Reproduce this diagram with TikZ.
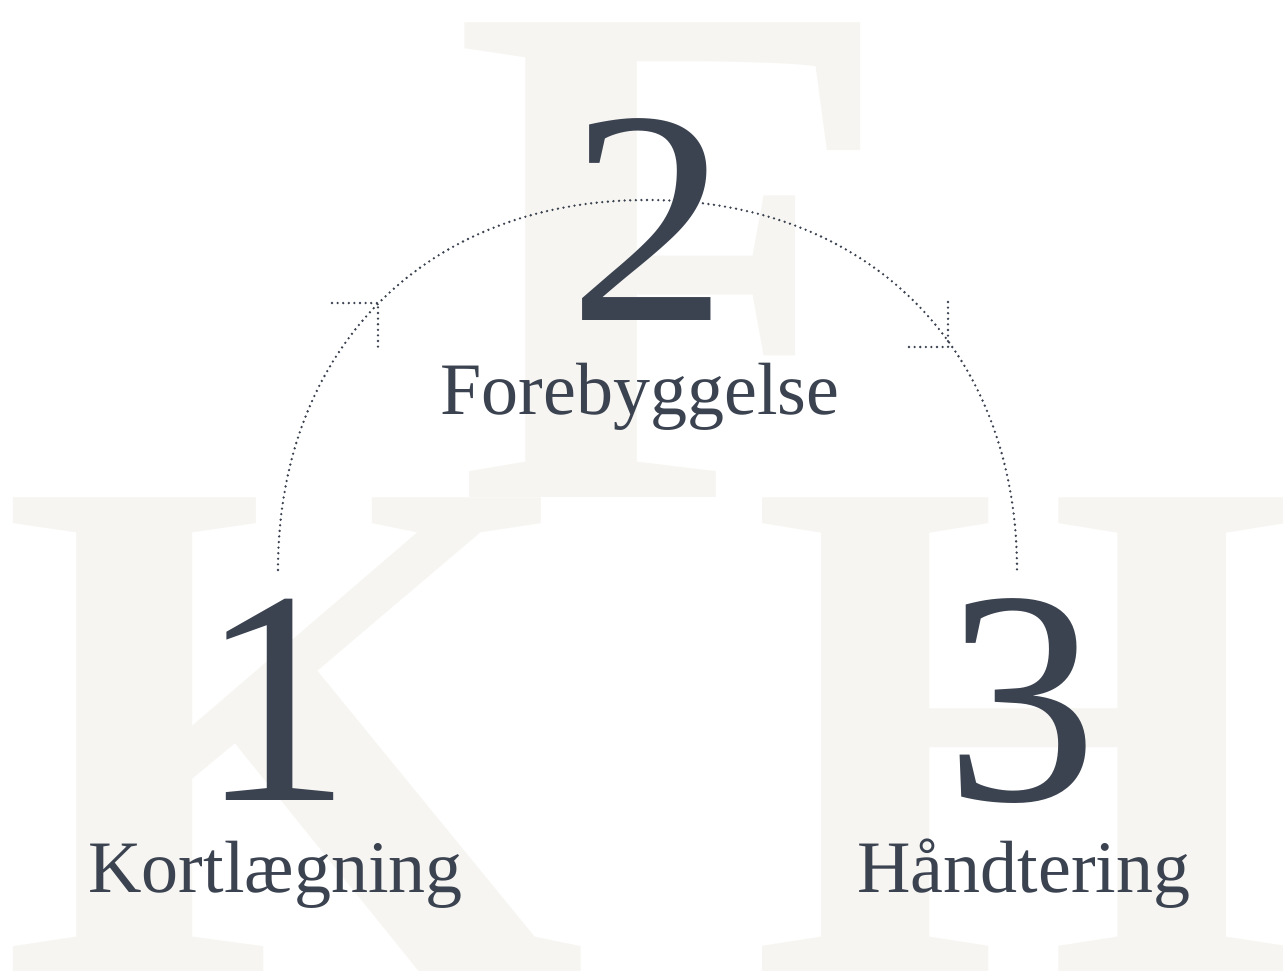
\documentclass[tikz,border=0pt]{standalone}
\usepackage{fontspec}
\setmainfont{Liberation Serif}
\usetikzlibrary{calc}
\definecolor{ink}{RGB}{59,66,80}
\definecolor{ghost}{RGB}{246,245,241}
\tikzset{
  ghostletter/.style={anchor=base west, inner sep=0pt, text=ghost, font=\fontsize{725pt}{725pt}\selectfont\bfseries},
  bignum/.style={anchor=base, inner sep=0pt, text=ink, font=\fontsize{305pt}{305pt}\selectfont},
  steplabel/.style={anchor=base, inner sep=0pt, text=ink, font=\fontsize{74pt}{74pt}\selectfont},
  dotline/.style={draw=ink, line width=2.6pt, line cap=round, dash pattern=on 0pt off 5.6pt}
}
\begin{document}
\begin{tikzpicture}[x=1pt, y=-1pt]
\useasboundingbox (0,0) rectangle (1283,970);
\fill[white] (0,0) rectangle (1283,970);
\begin{scope}
\clip (0,0) rectangle (1283,970);
\node[ghostletter, xscale=1.0] (bgF) at (452,497) {F};
\node[ghostletter, xscale=1.04] (bgK) at (0,972) {K};
\node[ghostletter, xscale=0.97] (bgH) at (750,972) {H};
\end{scope}
% numbers and labels
\node[bignum, xscale=1.05] (n2) at (649,320) {2};
\node[bignum] (n1) at (276,800) {1};
\node[bignum] (n3) at (1022,800) {3};
\node[steplabel] (l2) at (640,414) {Forebyggelse};
\node[steplabel] (l1) at (275.5,892) {Kortlægning};
\node[steplabel] (l3) at (1024,892) {Håndtering};
% arc
\coordinate (s1) at (278,570);
\coordinate (top) at (647,200);
\coordinate (s3) at (1017,570);
\draw[dotline] (s1) .. controls (278,350) and (425,200) .. (top)
                    .. controls (869,200) and (1017,350) .. (s3);
% arrow marks
\coordinate (a1) at (378,303);
\coordinate (a2) at (948,347);
\draw[dotline] ($(a1)+(-46,0)$) -- (a1) -- ($(a1)+(0,47)$);
\draw[dotline] ($(a2)+(0,-45)$) -- (a2) -- ($(a2)+(-43,0)$);
\end{tikzpicture}
\end{document}
